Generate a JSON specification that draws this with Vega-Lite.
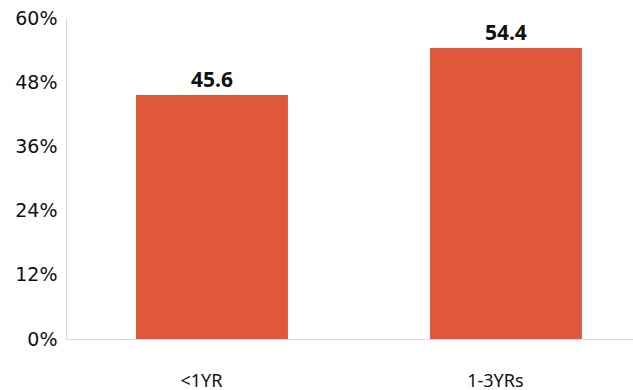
{
  "$schema": "https://vega.github.io/schema/vega-lite/v6.json",
  "width": 567,
  "height": 321,
  "autosize": "none",
  "padding": {"left": 66, "top": 18, "right": 0, "bottom": 51},
  "background": "white",
  "config": {"view": {"stroke": null}},
  "data": {"values": [
    {"group": "<1YR", "value": 45.6},
    {"group": "1-3YRs", "value": 54.4}
  ]},
  "encoding": {
    "x": {
      "field": "group", "type": "nominal", "sort": null,
      "scale": {"paddingInner": 0.483, "paddingOuter": 0.206, "align": 0.578},
      "axis": {
        "title": null, "labelAngle": 0, "ticks": false, "domainColor": "#d9d9d9",
        "labelFont": "Noto Sans", "labelFontSize": 18, "labelColor": "#111",
        "labelBaseline": "alphabetic", "labelPadding": 47, "labelOffset": -10.5
      }
    },
    "y": {
      "field": "value", "type": "quantitative",
      "scale": {"domain": [0, 60], "nice": false},
      "axis": {
        "title": null, "values": [0, 12, 24, 36, 48, 60], "grid": false, "ticks": false,
        "domainColor": "#d9d9d9", "labelExpr": "datum.value + '%'",
        "labelFont": "DejaVu Sans", "labelFontSize": 19, "labelColor": "#111", "labelPadding": 9
      }
    }
  },
  "layer": [
    {"mark": {"type": "bar", "color": "#E0583B"}},
    {
      "mark": {"type": "text", "dy": -8, "baseline": "alphabetic", "font": "Noto Sans", "fontWeight": "bold", "fontSize": 21, "color": "#111"},
      "encoding": {"text": {"field": "value", "type": "quantitative", "format": ".1f"}}
    }
  ]
}
